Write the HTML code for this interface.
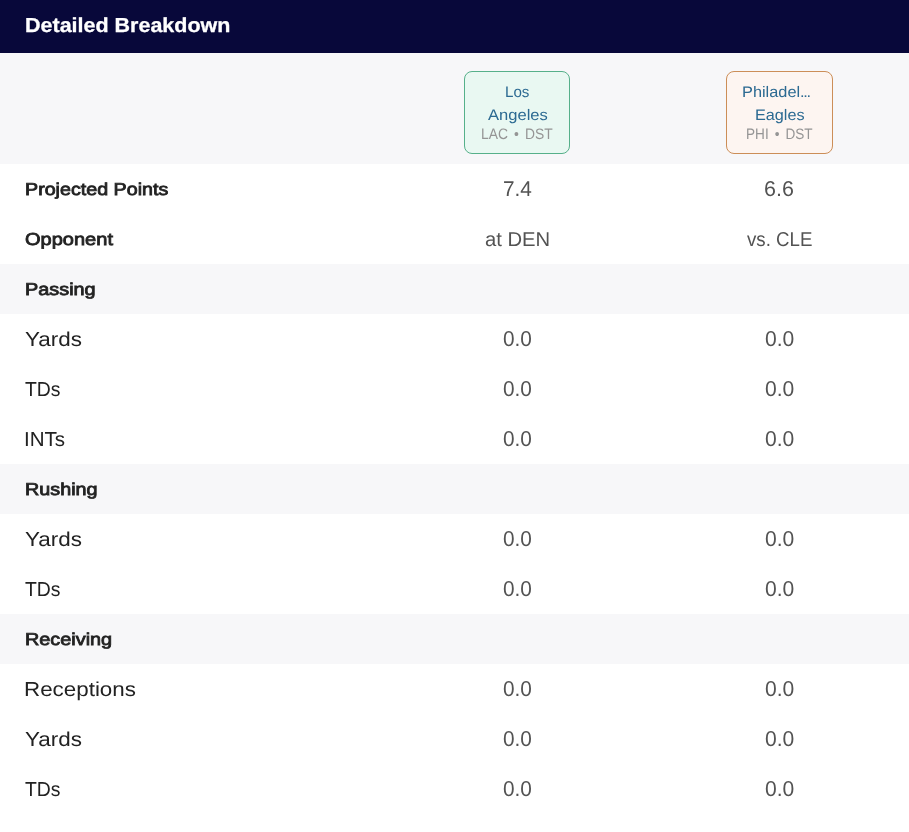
<!DOCTYPE html>
<html lang="en">
<head>
<meta charset="utf-8">
<title>Detailed Breakdown</title>
<style>
*{box-sizing:border-box;margin:0;padding:0}
html,body{width:909px;height:832px;background:#fff;overflow:hidden}
body{font-family:"Liberation Sans",sans-serif;color:#222;position:relative;text-rendering:geometricPrecision}
.bar{position:absolute;left:0;top:0;width:909px;height:53px;background:#08083a}
.teams{position:absolute;left:0;top:53px;width:909px;height:111px;background:#f7f7f9}
.row{position:absolute;left:0;width:909px;height:50px}
.row.g{background:#f7f7f9}
.card{position:absolute;top:18px;height:83px;border:1px solid;border-radius:8px}
.c1{left:464px;width:106px;background:#e9f8f2;border-color:#56b08a}
.c2{left:726px;width:107px;background:#fdf5f1;border-color:#cc8e58}
.t{position:absolute;white-space:nowrap;transform-origin:0 0;display:block}
.t i{font-style:normal;letter-spacing:-1.2px}
.hd{color:#fff;font-weight:700;-webkit-text-stroke:.3px #fff;margin:0}
.nm{color:#2c6a92}
.sb{color:#959595;word-spacing:2.5px}
.b{color:#222;-webkit-text-stroke:.8px #222}
.l{color:#222}
.v{color:#535353}
</style>
</head>
<body>
<header class="bar"><h2 class="t hd" style="left:24.78px;top:14px;font-size:20.3px;line-height:24px;transform:scaleX(1.0596)">Detailed Breakdown</h2></header>
<section class="teams">
  <div class="card c1"><span class="t nm" style="left:39.77px;top:12px;font-size:15.3px;line-height:18px;transform:scaleX(0.9903)">Los</span><span class="t nm" style="left:22.92px;top:35px;font-size:15.3px;line-height:18px;transform:scaleX(1.0817)">Angeles</span><span class="t sb" style="left:15.74px;top:54px;font-size:15.1px;line-height:18px;transform:scaleX(0.9180)">LAC • DST</span></div>
  <div class="card c2"><span class="t nm" style="left:14.69px;top:12px;font-size:15.3px;line-height:18px;transform:scaleX(1.0673)">Philadel<i>...</i></span><span class="t nm" style="left:27.62px;top:35px;font-size:15.3px;line-height:18px;transform:scaleX(1.0606)">Eagles</span><span class="t sb" style="left:18.72px;top:54px;font-size:15.1px;line-height:18px;transform:scaleX(0.9003)">PHI • DST</span></div>
</section>
<main>
  <div class="row" style="top:164px"><span class="t b" style="left:24.55px;top:15px;font-size:17.2px;line-height:21px;transform:scaleX(1.1449)">Projected Points</span><span class="t v" style="left:502.59px;top:12px;font-size:21.4px;line-height:26px;transform:scaleX(0.9714)">7.4</span><span class="t v" style="left:764.45px;top:12px;font-size:21.4px;line-height:26px;transform:scaleX(1.0048)">6.6</span></div>
  <div class="row" style="top:214px"><span class="t b" style="left:25.16px;top:15px;font-size:17.2px;line-height:21px;transform:scaleX(1.1648)">Opponent</span><span class="t v" style="left:485.06px;top:14px;font-size:20px;line-height:24px;transform:scaleX(1.0118)">at DEN</span><span class="t v" style="left:746.58px;top:14px;font-size:20px;line-height:24px;transform:scaleX(0.9350)">vs. CLE</span></div>
  <div class="row g" style="top:264px"><span class="t b" style="left:24.85px;top:15px;font-size:17.2px;line-height:21px;transform:scaleX(1.1554)">Passing</span></div>
  <div class="row" style="top:314px"><span class="t l" style="left:24.70px;top:14px;font-size:20.2px;line-height:24px;transform:scaleX(1.1132)">Yards</span><span class="t v" style="left:502.60px;top:12px;font-size:21.4px;line-height:26px;transform:scaleX(0.9732)">0.0</span><span class="t v" style="left:765.41px;top:12px;font-size:21.4px;line-height:26px;transform:scaleX(0.9866)">0.0</span></div>
  <div class="row" style="top:364px"><span class="t l" style="left:25.03px;top:14px;font-size:20.2px;line-height:24px;transform:scaleX(0.9597)">TDs</span><span class="t v" style="left:502.60px;top:12px;font-size:21.4px;line-height:26px;transform:scaleX(0.9732)">0.0</span><span class="t v" style="left:765.41px;top:12px;font-size:21.4px;line-height:26px;transform:scaleX(0.9866)">0.0</span></div>
  <div class="row" style="top:414px"><span class="t l" style="left:24.05px;top:14px;font-size:20.2px;line-height:24px;transform:scaleX(1.0173)">INTs</span><span class="t v" style="left:502.60px;top:12px;font-size:21.4px;line-height:26px;transform:scaleX(0.9732)">0.0</span><span class="t v" style="left:765.41px;top:12px;font-size:21.4px;line-height:26px;transform:scaleX(0.9866)">0.0</span></div>
  <div class="row g" style="top:464px"><span class="t b" style="left:24.88px;top:15px;font-size:17.2px;line-height:21px;transform:scaleX(1.1504)">Rushing</span></div>
  <div class="row" style="top:514px"><span class="t l" style="left:24.70px;top:14px;font-size:20.2px;line-height:24px;transform:scaleX(1.1132)">Yards</span><span class="t v" style="left:502.60px;top:12px;font-size:21.4px;line-height:26px;transform:scaleX(0.9732)">0.0</span><span class="t v" style="left:765.41px;top:12px;font-size:21.4px;line-height:26px;transform:scaleX(0.9866)">0.0</span></div>
  <div class="row" style="top:564px"><span class="t l" style="left:25.03px;top:14px;font-size:20.2px;line-height:24px;transform:scaleX(0.9597)">TDs</span><span class="t v" style="left:502.60px;top:12px;font-size:21.4px;line-height:26px;transform:scaleX(0.9732)">0.0</span><span class="t v" style="left:765.41px;top:12px;font-size:21.4px;line-height:26px;transform:scaleX(0.9866)">0.0</span></div>
  <div class="row g" style="top:614px"><span class="t b" style="left:24.58px;top:15px;font-size:17.2px;line-height:21px;transform:scaleX(1.1549)">Receiving</span></div>
  <div class="row" style="top:664px"><span class="t l" style="left:24.13px;top:14px;font-size:20.2px;line-height:24px;transform:scaleX(1.1083)">Receptions</span><span class="t v" style="left:502.60px;top:12px;font-size:21.4px;line-height:26px;transform:scaleX(0.9732)">0.0</span><span class="t v" style="left:765.41px;top:12px;font-size:21.4px;line-height:26px;transform:scaleX(0.9866)">0.0</span></div>
  <div class="row" style="top:714px"><span class="t l" style="left:24.70px;top:14px;font-size:20.2px;line-height:24px;transform:scaleX(1.1132)">Yards</span><span class="t v" style="left:502.60px;top:12px;font-size:21.4px;line-height:26px;transform:scaleX(0.9732)">0.0</span><span class="t v" style="left:765.41px;top:12px;font-size:21.4px;line-height:26px;transform:scaleX(0.9866)">0.0</span></div>
  <div class="row" style="top:764px"><span class="t l" style="left:25.03px;top:14px;font-size:20.2px;line-height:24px;transform:scaleX(0.9597)">TDs</span><span class="t v" style="left:502.60px;top:12px;font-size:21.4px;line-height:26px;transform:scaleX(0.9732)">0.0</span><span class="t v" style="left:765.41px;top:12px;font-size:21.4px;line-height:26px;transform:scaleX(0.9866)">0.0</span></div>
</main>
</body>
</html>
